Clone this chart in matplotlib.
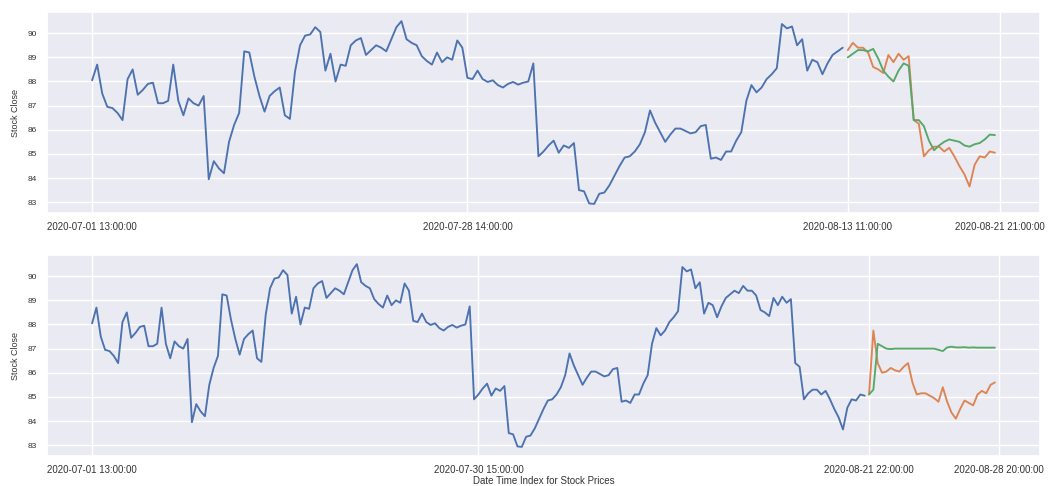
import numpy as np
import matplotlib
matplotlib.use('Agg')
import matplotlib.pyplot as plt
import seaborn as sns

# Close prices, hourly bars from 2020-07-01 13:00 to 2020-08-13 10:00
train_close = [
    88.05, 88.7, 87.5, 86.95, 86.9, 86.7, 86.4, 88.1, 88.5, 87.45,
    87.65, 87.9, 87.95, 87.1, 87.1, 87.2, 88.7, 87.2, 86.6, 87.3,
    87.1, 87.0, 87.4, 83.95, 84.7, 84.4, 84.2, 85.5, 86.2, 86.7,
    89.25, 89.2, 88.2, 87.4, 86.75, 87.4, 87.6, 87.75, 86.6, 86.45,
    88.4, 89.5, 89.9, 89.95, 90.25, 90.05, 88.45, 89.15, 88.0, 88.7,
    88.65, 89.5, 89.7, 89.8, 89.1, 89.3, 89.5, 89.4, 89.25, 89.75,
    90.25, 90.5, 89.75, 89.6, 89.5, 89.05, 88.85, 88.7, 89.2, 88.8,
    89.0, 88.9, 89.7, 89.4, 88.15, 88.1, 88.45, 88.1, 87.98, 88.05,
    87.85, 87.75, 87.9, 87.98, 87.87, 87.95, 88.0, 88.75, 84.9, 85.1,
    85.35, 85.55, 85.05, 85.35, 85.25, 85.45, 83.5, 83.45, 82.95, 82.93,
    83.35, 83.4, 83.7, 84.1, 84.5, 84.85, 84.9, 85.1, 85.4, 85.9,
    86.8, 86.3, 85.9, 85.5, 85.8, 86.05, 86.05, 85.95, 85.85, 85.9,
    86.15, 86.2, 84.8, 84.85, 84.75, 85.1, 85.1, 85.55, 85.9, 87.2,
    87.85, 87.55, 87.75, 88.1, 88.3, 88.55, 90.38, 90.2, 90.28, 89.5,
    89.75, 88.45, 88.9, 88.8, 88.3, 88.75, 89.1, 89.25, 89.4,
]

# week 1: actual closes and model forecast
test1_actual = [
    89.3, 89.6, 89.4, 89.4, 89.2, 88.6, 88.5, 88.35, 89.1, 88.8,
    89.15, 88.9, 89.05, 86.4, 86.25, 84.9, 85.15, 85.3, 85.3, 85.1,
    85.25, 84.9, 84.5, 84.15, 83.65, 84.55, 84.9, 84.85, 85.1, 85.05,
]
test1_pred = [
    89.0, 89.15, 89.3, 89.3, 89.25, 89.35, 88.95, 88.45, 88.2, 88.0,
    88.45, 88.75, 88.65, 86.4, 86.4, 86.15, 85.55, 85.15, 85.35, 85.5,
    85.6, 85.55, 85.5, 85.35, 85.3, 85.4, 85.45, 85.6, 85.8, 85.78,
]

# week 2: actual closes and model forecast
test2_actual = [
    85.1, 87.75, 86.4, 86.0, 86.05, 86.2, 86.1, 86.05, 86.25, 86.4,
    85.6, 85.1, 85.15, 85.15, 85.05, 84.95, 84.8, 85.4, 84.8, 84.35,
    84.1, 84.5, 84.85, 84.75, 84.65, 85.1, 85.25, 85.15, 85.5, 85.6,
]
test2_pred = [
    85.1, 85.3, 87.2, 87.1, 87.0, 86.98, 87.0, 87.0, 87.0, 87.0,
    87.0, 87.0, 87.0, 87.0, 87.0, 87.0, 86.95, 86.9, 87.05, 87.08,
    87.05, 87.05, 87.06, 87.04, 87.05, 87.04, 87.04, 87.04, 87.04, 87.04,
]

ticks1 = [0, 74, 149, 179]
labels1 = ['2020-07-01 13:00:00', '2020-07-28 14:00:00',
           '2020-08-13 11:00:00', '2020-08-21 21:00:00']
ticks2 = [0, 89, 179, 209]
labels2 = ['2020-07-01 13:00:00', '2020-07-30 15:00:00',
           '2020-08-21 22:00:00', '2020-08-28 20:00:00']

sns.set_theme(style='darkgrid')
plt.rcParams['font.family'] = ['Liberation Sans', 'DejaVu Sans']

fig = plt.figure(figsize=(10.48, 4.86), dpi=100)
ax1 = fig.add_axes([0.0448, 0.5617, 0.9476, 0.4136])
ax2 = fig.add_axes([0.0448, 0.0617, 0.9476, 0.4136])

# bottom window: training set also includes week 1 actuals
train2 = train_close + test1_actual

panels = [
    (ax1, train_close, test1_actual, test1_pred, ticks1, labels1),
    (ax2, train2, test2_actual, test2_pred, ticks2, labels2),
]

for ax, train, actual, pred, ticks, labels in panels:
    n = len(train)
    x_train = np.arange(n)
    x_test = np.arange(n, n + len(actual))
    ax.plot(x_train, train, color='#4C72B0', lw=1.35)
    ax.plot(x_test, actual, color='#DD8452', lw=1.35)
    ax.plot(x_test, pred, color='#55A868', lw=1.35)
    ax.set_xticks(ticks)
    ax.set_xticklabels(labels, fontsize=7, color='#333333')
    ax.set_yticks(range(83, 91))
    ax.tick_params(axis='y', labelsize=6, labelcolor='#333333', pad=7, length=0)
    ax.tick_params(axis='x', pad=6.5, length=0)
    ax.set_ylabel('Stock Close', fontsize=6.5, color='#333333', labelpad=6)
    ax.grid(True, color='white', lw=1)

ax2.set_xlabel('Date Time Index for Stock Prices', fontsize=7,
               color='#333333', labelpad=0.5)

plt.savefig('out.png', dpi=100)
